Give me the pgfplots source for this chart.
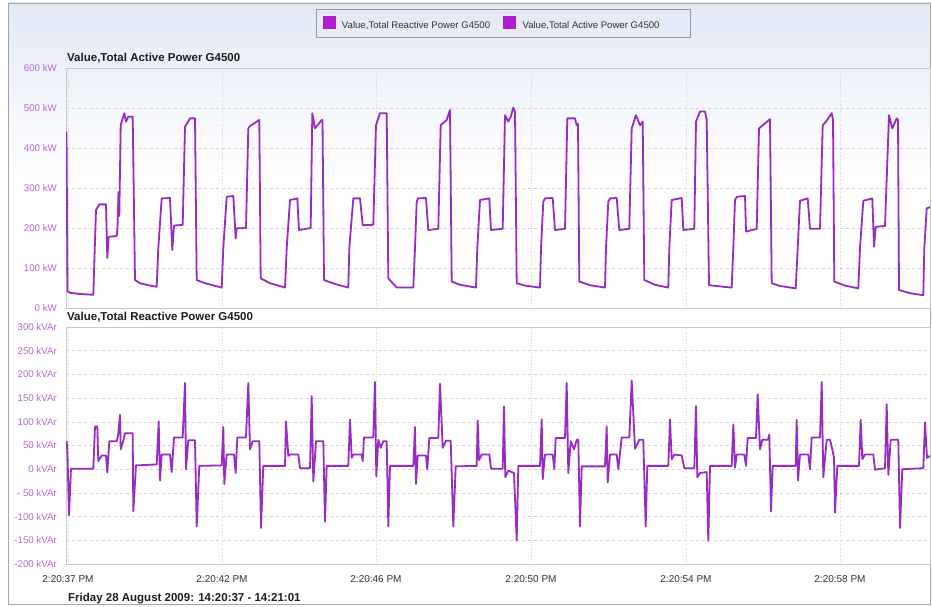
\documentclass[border=0pt]{standalone}
\usepackage{fontspec}
\setmainfont{Liberation Sans}
\usepackage{pgfplots}
\pgfplotsset{compat=1.18}
\definecolor{linecol}{RGB}{152,42,198}
\definecolor{legsq}{RGB}{176,32,208}
\definecolor{tickcol}{RGB}{180,105,215}
\definecolor{gridcol}{RGB}{212,212,212}
\definecolor{axiscol}{RGB}{200,200,200}
\definecolor{framecol}{RGB}{165,165,165}
\definecolor{bgtop}{RGB}{226,233,245}
\definecolor{legborder}{RGB}{150,155,165}
\definecolor{txtcol}{RGB}{50,50,50}
\definecolor{titlecol}{RGB}{30,30,30}
\pgfplotsset{
  myaxis/.style={
    scale only axis, width=864pt, xmin=66, xmax=930,
    axis line style={draw=axiscol},
    major tick length=0pt,
    xtick={68,222,376,531,686,840},
    xmajorgrids, ymajorgrids,
    x grid style={gridcol, dotted},
    y grid style={gridcol, dashed},
    yticklabel style={font=\fontsize{9.7}{10}\selectfont, text=tickcol, inner sep=0pt, xshift=-9pt, anchor=east},
  },
  myline/.style={draw=linecol, line width=1.8pt, line join=round, mark=none},
}
\begin{document}
\begin{tikzpicture}
\useasboundingbox (0,0) rectangle (932pt,607pt);
\fill[white] (0,0) rectangle (932pt,607pt);
\shade[top color=bgtop, bottom color=white] (8pt,430pt) rectangle (930pt,604pt);
\draw[framecol] (8pt,3pt) rectangle (930pt,604pt);
\draw[legborder] (316pt,569.7pt) rectangle (690pt,597.7pt);

\begin{axis}[myaxis,
  at={(66pt,299pt)}, anchor=south west, height=240pt,
  ymin=0, ymax=600, ytick={0,100,200,300,400,500,600},
  yticklabels={0 kW,100 kW,200 kW,300 kW,400 kW,500 kW,600 kW},
  xticklabels={},
  legend columns=2,
  legend style={draw=none, fill=none, inner sep=0pt,
    at={(axis description cs:0.2971,1.1867)}, anchor=west,
    nodes={inner sep=0pt, font=\fontsize{9.6}{10}\selectfont, text=txtcol},
    /tikz/every odd column/.append style={column sep=6.7pt},
    /tikz/every even column/.append style={column sep=13.3pt}},
  legend image code/.code={\fill[legsq] (0pt,-2pt) rectangle (12pt,9.5pt);},
]
\addlegendimage{legsq}
\addlegendentry{Value,Total Reactive Power G4500}
\addlegendimage{legsq}
\addlegendentry{Value,Total Active Power G4500}
\addplot[myline, forget plot] coordinates {
(66.5,441) (67.5,42) (70,38) (80,35) (93.3,33)
(96,245) (99.3,259) (106,259) (107.3,125) (108.7,178) (116.7,180)
(117.5,200) (118.5,290) (119.3,230) (120.7,457) (124.3,487) (126,466) (128.3,478) (132.7,478) (135,70) (140,62) (150,56) (156.7,53)
(158.3,150) (161.7,274) (170,275) (172.3,145) (174,206) (182.7,208) (185,453) (190,474) (195,474) (196.7,70) (205,62) (221.7,51)
(223.3,150) (226.7,278) (233.3,280) (235.7,174) (236.7,199) (246,200) (248.3,449) (250,455) (259.3,470) (260.7,74) (270,62) (285,51)
(286.7,150) (290,270) (297.3,274) (299,195) (310.7,200) (312.3,487) (313.5,470) (315,449) (321.7,470) (322.5,470) (324,70) (335,60) (348.3,51)
(349.3,150) (353.3,274) (360,274) (362.7,207) (373.3,208) (376,457) (380,487) (386.7,487) (388.3,74) (396.7,51) (413.3,51)
(415,150) (416.7,266) (418,274) (426,275) (428.3,195) (438.3,198) (440.7,457) (446.7,470) (450,495) (451.7,66) (460,58) (476,51)
(477.3,150) (480,270) (489.3,274) (491,195) (502.7,198) (505,482) (508.3,466) (511,480) (513.3,501) (515,490) (516.7,62) (525,56) (540,51)
(541,150) (543.3,266) (545,274) (552.7,275) (555,195) (565,198) (567.3,474) (575,474) (576.7,457) (578,460) (579.3,66) (590,57) (605,51)
(606,150) (608.3,266) (610,274) (616.7,275) (619.3,195) (629.3,198) (631.7,449) (636,482) (640,457) (642.7,466) (644.3,70) (655,58) (668.3,51)
(669.3,150) (671.7,270) (681.7,275) (683.3,195) (694.3,198) (696,466) (700,491) (705,491) (706.7,470) (709,57) (720,54) (731.7,51)
(733.3,150) (735,270) (737,278) (745,280) (746,191) (756.7,198) (759,449) (770,472) (771.7,62) (780,55) (795.7,49)
(797.7,150) (800,268) (807.7,274) (810,198) (820,198) (822.7,457) (826,466) (831.7,487) (833,470) (834.3,66) (845,56) (858.3,49)
(860,150) (863.3,268) (872.3,274) (874,153) (875.7,203) (885,205) (889,482) (892.3,449) (896.7,474) (898,470) (899,45) (910,37) (923.3,32)
(924.3,150) (926.7,249) (931,253)
};
\end{axis}

\begin{axis}[myaxis,
  at={(66pt,43pt)}, anchor=south west, height=237pt,
  ymin=-200, ymax=300, ytick={-200,-150,-100,-50,0,50,100,150,200,250,300},
  yticklabels={-200 kVAr,-150 kVAr,-100 kVAr,- 50 kVAr,0 kVAr,50 kVAr,100 kVAr,150 kVAr,200 kVAr,250 kVAr,300 kVAr},
  xticklabels={2:20:37 PM,2:20:42 PM,2:20:46 PM,2:20:50 PM,2:20:54 PM,2:20:58 PM},
  xticklabel style={font=\fontsize{10}{11}\selectfont, text=txtcol, inner sep=0pt, anchor=north, yshift=-11pt},
]
\addplot[myline] coordinates {
(66.7,59) (67.5,30) (69,-97) (71,1) (93.3,1) (95,90) (97.3,90) (98.3,17) (101.7,29) (106,29) (107.3,-7) (109.3,59) (116.7,59) (118,70) (120,115) (120.7,42) (123.3,60) (125,76) (132.7,76) (133.3,-89) (136,8) (156.7,10)
(158.7,101) (160,-24) (161.7,31) (170,31) (171.7,-6) (174,67) (182.7,67) (185,182) (186,0) (188.3,61) (195,61) (196.7,-121) (199.3,7) (221.7,8)
(223.3,89) (224.3,-31) (226.7,31) (234,31) (235.7,-8) (237.3,67) (246,67) (248.3,182) (250,42) (252.7,59) (259.3,59) (261,-124) (263.3,7) (285,7)
(286,101) (288.3,28) (290,31) (298.3,31) (300,2) (310,2) (311.7,154) (313.3,-26) (316,59) (323.3,59) (325,-111) (326.7,7) (348.3,7)
(350,105) (351.7,24) (353.3,31) (361.7,31) (362.7,17) (364,67) (373.3,67) (375,184) (376.3,-15) (378.3,62) (380.7,45) (383.3,59) (386.7,59) (388.3,-121) (390,7) (413.3,7)
(415,89) (416,-31) (417.7,29) (426,29) (427.3,0) (429.3,66) (438.3,66) (440,180) (442.7,45) (446,60) (450.7,60) (453.3,-121) (455.7,6) (476.7,7)
(477.7,103) (479,19) (481.7,31) (489.3,31) (491,1) (502.7,1) (504,132) (505.3,-17) (508.3,-3) (514,-8) (516.7,-151) (518.3,7) (540,7)
(541.7,105) (542.7,-21) (545,31) (552.7,31) (554.3,0) (555.7,66) (565,66) (566.7,182) (568.3,-8) (570.7,59) (574,42) (576.7,62) (578.3,62) (580,-121) (581.7,6) (605,6)
(606.7,90) (607.7,-28) (610,31) (616.7,31) (618.3,0) (621.7,67) (629.3,67) (631.7,187) (635,43) (639.3,62) (643.3,62) (645.7,-121) (647.3,7) (668.3,7)
(670,105) (671.7,21) (674.3,31) (681.7,29) (684.3,2) (694.3,2) (696,133) (697.3,-17) (700,-8) (706.7,-6) (708.3,-151) (710,7) (731.7,7)
(733.3,94) (735,3) (736.7,31) (744.3,31) (746,7) (747.7,66) (756,66) (757.7,158) (760,42) (762.3,62) (768,62) (769.3,73) (771,-89) (772.7,7) (795.7,7)
(796.7,104) (798,-24) (800,31) (808.3,31) (810,0) (811.7,67) (820,67) (821.7,184) (823.3,-17) (826.7,62) (830,62) (832.3,42) (834,24) (835,-92) (837.3,7) (859,7)
(860.7,104) (862.3,21) (865,31) (873.3,31) (875,-1) (885,2) (886.7,137) (888.3,-12) (890.7,62) (898.3,62) (900,-124) (902.3,0) (923.3,2)
(925,99) (927,24) (931,29)
};
\end{axis}

\node[anchor=base west, font=\bfseries\fontsize{11.5}{12}\selectfont, text=titlecol, inner sep=0pt] at (67pt,545.5pt) {Value,Total Active Power G4500};
\node[anchor=base west, font=\bfseries\fontsize{11.5}{12}\selectfont, text=titlecol, inner sep=0pt] at (67pt,286pt) {Value,Total Reactive Power G4500};
\node[anchor=base west, font=\bfseries\fontsize{11.5}{12}\selectfont, text=titlecol, inner sep=0pt] at (68pt,5.5pt) {Friday 28 August 2009: 14:20:37 - 14:21:01};
\end{tikzpicture}
\end{document}
